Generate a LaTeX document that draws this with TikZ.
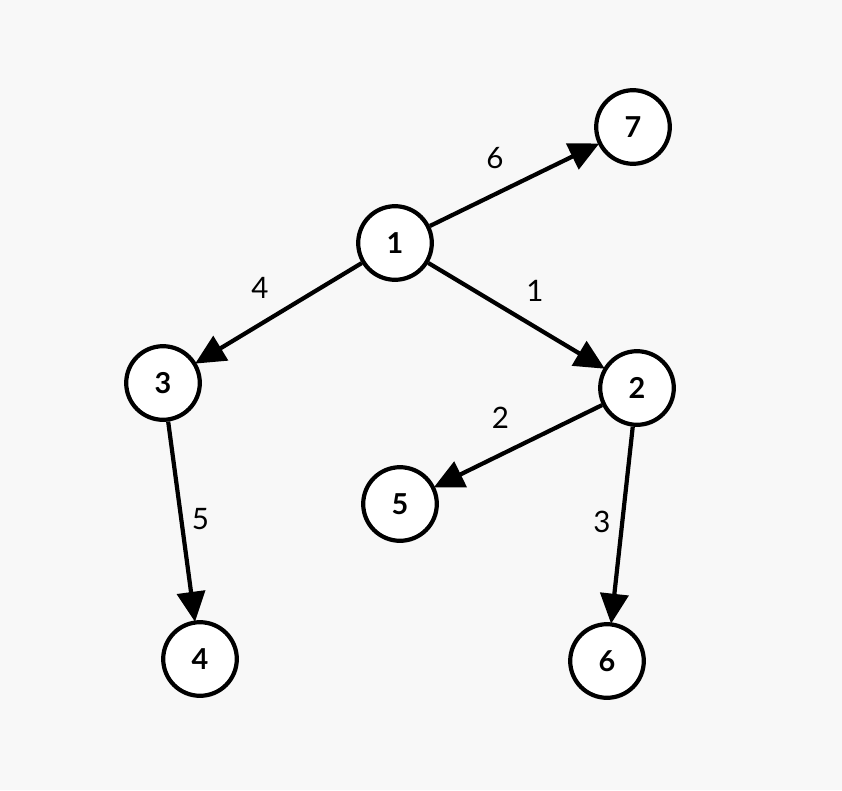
\documentclass[tikz,border=0pt]{standalone}
\usepackage{fontspec}
\setmainfont{Lato}
\usetikzlibrary{arrows.meta, positioning}
\definecolor{bggray}{HTML}{F8F8F8}

\begin{document}
\begin{tikzpicture}[
    vertex/.style={draw, circle, line width=3pt, fill=white, minimum size=1.84cm, inner sep=0pt, font=\fontsize{20.5}{24}\selectfont\bfseries},
    arrow/.style={-{Triangle[length=0.75cm, width=0.7cm]}, line width=3pt, shorten >=-1pt},
    elabel/.style={font=\fontsize{21}{25}\selectfont, inner sep=0pt},
]
    % canvas
    \fill[bggray] (0, 0) rectangle (21.05, -19.75);
    \useasboundingbox (0, 0) rectangle (21.05, -19.75);

    % Vertices
    \node[vertex] (n1) at (9.875, -6.075) {1};
    \node[vertex] (n7) at (15.825, -3.175) {7};
    \node[vertex] (n3) at (4.075, -9.575) {3};
    \node[vertex] (n2) at (15.925, -9.7) {2};
    \node[vertex] (n5) at (10.0, -12.6) {5};
    \node[vertex] (n4) at (5.0, -16.475) {4};
    \node[vertex] (n6) at (15.175, -16.525) {6};

    % Weighted edges
    \draw[arrow] (n1) -- node[elabel, shift={(-0.475, 0.675)}] {6} (n7);
    \draw[arrow] (n1) -- node[elabel, shift={(-0.475, 0.625)}] {4} (n3);
    \draw[arrow] (n1) -- node[elabel, shift={(0.475, 0.625)}] {1} (n2);
    \draw[arrow] (n2) -- node[elabel, shift={(-0.45, 0.7)}] {2} (n5);
    \draw[arrow] (n3) -- node[elabel, shift={(0.475, 0.05)}] {5} (n4);
    \draw[arrow] (n2) -- node[elabel, shift={(-0.5, 0.075)}] {3} (n6);

\end{tikzpicture}
\end{document}
